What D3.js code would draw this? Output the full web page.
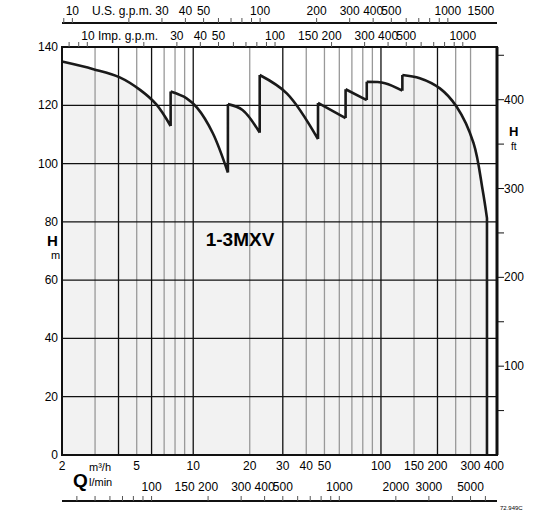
<!doctype html>
<html>
<head>
<meta charset="utf-8"/>
<script src="https://cdnjs.cloudflare.com/ajax/libs/d3/7.8.5/d3.min.js"></script>
<style>
body { margin:0; background:#fff; font-family: Arial, "Liberation Sans", sans-serif; }
text { font-family: Arial, "Liberation Sans", sans-serif; }
</style>
</head>
<body>
<script>
// pump curve 1-3MXV, Q in m3/h, H in m
const curveQ = [2, 2.94, 4.06, 5.21, 6.36, 7.58, 7.58, 9.22, 10.5, 12.7, 15.3, 15.3, 18.3, 22.6, 22.6, 31.5, 46.2, 46.2, 64.8, 64.8, 84, 84, 105, 130, 130, 161, 206, 253, 311, 348, 367, 367];
const curveH = [135, 132.4, 129.6, 125.3, 120.3, 112.9, 124.7, 122.4, 119.1, 110.5, 96.9, 120.4, 118.4, 110.6, 130.4, 124.1, 108.4, 120.8, 115.6, 125.5, 121.8, 128.1, 127.6, 125.0, 130.4, 129.3, 125.8, 119.5, 107.1, 90.9, 81.3, 0];
const gridQ = [3, 4, 5, 6, 7, 8, 9, 10, 20, 30, 40, 50, 60, 70, 80, 90, 100, 150, 200, 250, 300];
const darkQ = [4, 6, 10, 30, 100, 200];
const yTicksM = [0, 20, 40, 60, 80, 100, 120, 140];
const ftTicks = [50, 100, 150, 200, 250, 300, 350, 400, 450];
const ftLabels = [100, 200, 300, 400];
const m3hLabels = [2, 5, 10, 20, 30, 40, 50, 100, 150, 200, 300, 400];
const lminLabels = [100, 150, 200, 300, 400, 500, 1000, 2000, 3000, 5000];
const usLabels = [10, 30, 40, 50, 100, 200, 300, 400, 500, 1000, 1500];
const impLabels = [10, 30, 40, 50, 100, 150, 200, 300, 400, 500, 1000];

const W = 551, H = 514;
const L = 62, R = 497, T = 47, B = 455;
const svg = d3.select('body').append('svg').attr('width', W).attr('height', H);

const x = d3.scaleLog().domain([2, 415]).range([L, R]);
const y = d3.scaleLinear().domain([0, 140]).range([B, T]);
const yft = d3.scaleLinear().domain([0, 140 / 0.3048]).range([B, T]);

// split the curve into smooth segments at the vertical jumps
const pts = curveQ.map((q, i) => [x(q), y(curveH[i])]);
const segs = [[pts[0]]];
for (let i = 1; i < pts.length; i++) {
  if (curveQ[i] === curveQ[i - 1]) segs.push([pts[i - 1], pts[i]]), segs.push([pts[i]]);
  else segs[segs.length - 1].push(pts[i]);
}
const smooth = d3.line().curve(d3.curveCatmullRom.alpha(0.5));
let dAll = '';
segs.forEach(s => { if (s.length > 1) dAll += smooth(s); });

// fill under curve
const fillPath = smooth(pts.slice(0, 1)) ;
const area = [[x(2), y(0)]].concat(pts).concat([[x(367), y(0)]]);
svg.append('path').attr('d', d3.line()(area)).attr('fill', '#f2f2f2');
// cover corners between straight fill and smooth line
svg.append('path').attr('d', dAll).attr('fill', 'none').attr('stroke', '#f2f2f2').attr('stroke-width', 1);

// vertical grid
svg.selectAll('.vg').data(gridQ).enter().append('line')
  .attr('x1', d => x(d)).attr('x2', d => x(d)).attr('y1', T).attr('y2', B)
  .attr('stroke', d => darkQ.includes(d) ? '#111' : '#999')
  .attr('stroke-width', 1.3);

// horizontal grid
svg.selectAll('.hg').data(yTicksM).enter().append('line')
  .attr('x1', L).attr('x2', R).attr('y1', d => y(d)).attr('y2', d => y(d))
  .attr('stroke', '#111').attr('stroke-width', 1.2);

// curve
svg.append('path').attr('d', dAll).attr('fill', 'none')
  .attr('stroke', '#1a1a1a').attr('stroke-width', 2.6).attr('stroke-linejoin', 'round');

// frame
svg.append('rect').attr('x', L).attr('y', T).attr('width', R - L).attr('height', B - T)
  .attr('fill', 'none').attr('stroke', '#111').attr('stroke-width', 2);
svg.append('line').attr('x1', R).attr('x2', R).attr('y1', T).attr('y2', B)
  .attr('stroke', '#111').attr('stroke-width', 3);

// left labels
svg.selectAll('.yl').data(yTicksM).enter().append('text')
  .attr('x', L - 4).attr('y', d => y(d) + 4).attr('text-anchor', 'end')
  .attr('font-size', 12).text(d => d);
svg.append('text').attr('x', 47).attr('y', 246).attr('font-size', 15).attr('font-weight', 'bold').text('H');
svg.append('text').attr('x', 51).attr('y', 259).attr('font-size', 11).text('m');

// right ft axis
svg.selectAll('.ft').data(ftTicks).enter().append('line')
  .attr('x1', R).attr('x2', R + 7).attr('y1', d => yft(d)).attr('y2', d => yft(d))
  .attr('stroke', '#111');
svg.selectAll('.ftl').data(ftLabels).enter().append('text')
  .attr('x', R + 7).attr('y', d => yft(d) + 4).attr('font-size', 12).text(d => d);
svg.append('text').attr('x', 509).attr('y', 136).attr('font-size', 13).attr('font-weight', 'bold').text('H');
svg.append('text').attr('x', 511).attr('y', 150).attr('font-size', 10).text('ft');

svg.append('text').attr('x', 240).attr('y', 246).attr('text-anchor', 'middle')
  .attr('font-size', 19).attr('font-weight', 'bold').text('1-3MXV');

// bottom m3/h labels
svg.selectAll('.ml').data(m3hLabels).enter().append('text')
  .attr('x', d => x(d)).attr('y', B + 15).attr('text-anchor', 'middle')
  .attr('font-size', 12).text(d => d);
svg.append('text').attr('x', 73).attr('y', 487).attr('font-size', 19).attr('font-weight', 'bold').text('Q');
svg.append('text').attr('x', 89).attr('y', 471).attr('font-size', 11).text('m³/h');
svg.append('text').attr('x', 89).attr('y', 486).attr('font-size', 11).text('l/min');

// unit axes helper: factor converts m3/h to unit
function minorTicks(f) {
  const out = [];
  for (let e = 0; e < 5; e++) for (let k = 1; k < 10; k++) {
    const v = k * Math.pow(10, e);
    const q = v / f;
    if (q >= 2 && q <= 415) out.push(v);
  }
  return out;
}
function unitAxis(f, lineY, dir, labels, labelY) {
  svg.append('line').attr('x1', L).attr('x2', R).attr('y1', lineY).attr('y2', lineY)
    .attr('stroke', '#111').attr('stroke-width', 2);
  svg.selectAll(null).data(minorTicks(f)).enter().append('line')
    .attr('x1', d => x(d / f)).attr('x2', d => x(d / f))
    .attr('y1', lineY).attr('y2', lineY + dir * 5).attr('stroke', '#555');
  svg.selectAll(null).data(labels).enter().append('text')
    .attr('x', d => x(d / f)).attr('y', labelY).attr('text-anchor', 'middle')
    .attr('font-size', 12).text(d => d);
}
unitAxis(16.667, 501, -1, lminLabels, 491);
unitAxis(4.4029, 23, -1, usLabels, 15);
// imp gpm ticks hang from plot top
svg.selectAll(null).data(minorTicks(3.666)).enter().append('line')
  .attr('x1', d => x(d / 3.666)).attr('x2', d => x(d / 3.666))
  .attr('y1', T).attr('y2', T - 5).attr('stroke', '#555');
svg.selectAll(null).data(impLabels).enter().append('text')
  .attr('x', d => x(d / 3.666)).attr('y', 40).attr('text-anchor', 'middle')
  .attr('font-size', 12).text(d => d === 10 ? '' : d);
svg.append('text').attr('x', x(10 / 3.666) - 6).attr('y', 40).attr('font-size', 12).text('10 Imp. g.p.m.');
svg.append('text').attr('x', 92).attr('y', 15).attr('font-size', 12).text('U.S. g.p.m.');
svg.append('text').attr('x', 500).attr('y', 510).attr('font-size', 6).text('72.949C');
</script>
</body>
</html>
